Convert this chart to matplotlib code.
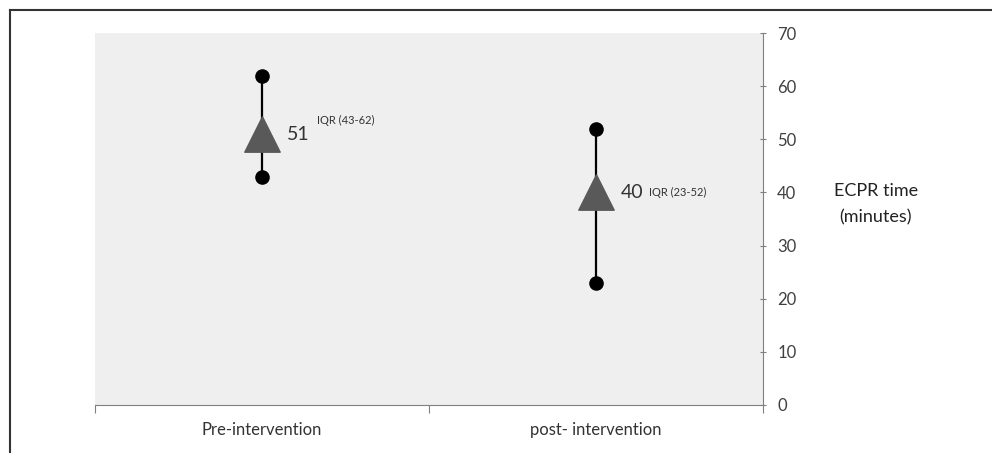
import matplotlib.pyplot as plt
import numpy as np
from matplotlib.lines import Line2D

plt.rcParams['font.family'] = ['Lato', 'DejaVu Sans']

groups = ['Pre-intervention', 'post- intervention']
median = [51, 40]
q1 = [43, 23]
q3 = [62, 52]
iqr_text = ['IQR (43-62)', 'IQR (23-52)']
yticks = [0, 10, 20, 30, 40, 50, 60, 70]

fig = plt.figure(figsize=(9.92, 4.53), dpi=100)
ax = fig.add_axes([0.0958, 0.106, 0.673, 0.821])
ax.set_facecolor('#efefef')

x = np.arange(len(groups))
for i in x:
    ax.plot([i, i], [q1[i], q3[i]], color='black', lw=1.6, zorder=2)
ax.scatter(x, q1, s=90, color='black', zorder=3)
ax.scatter(x, q3, s=90, color='black', zorder=3)
ax.scatter(x, median, marker='^', s=650, color='#595959', zorder=4)

# value labels (first one has the IQR raised like a superscript)
ax.annotate(str(median[0]), (x[0], median[0]), xytext=(18, 0), textcoords='offset points',
            fontsize=14, color='#333333', va='center')
ax.annotate(iqr_text[0], (x[0], median[0]), xytext=(40, 10), textcoords='offset points',
            fontsize=8, color='#333333', va='center')
ax.annotate(str(median[1]), (x[1], median[1]), xytext=(18, 0), textcoords='offset points',
            fontsize=14, color='#333333', va='center')
ax.annotate(iqr_text[1], (x[1], median[1]), xytext=(38, 0), textcoords='offset points',
            fontsize=8, color='#333333', va='center')

ax.set_xlim(-0.5, 1.5)
ax.set_ylim(0, 70)
ax.set_xticks([-0.5, 0.5, 1.5])
ax.set_xticklabels([])
ax.set_xticks(x, minor=True)
ax.set_xticklabels(groups, minor=True, fontsize=12, color='#333333')
ax.tick_params(axis='x', which='minor', length=0, pad=12)
ax.tick_params(axis='x', which='major', length=6, color='#808080', direction='out')

ax.yaxis.tick_right()
ax.set_yticks(yticks)
ax.tick_params(axis='y', length=5, direction='inout', color='#808080', labelsize=12,
               labelcolor='#404040', pad=8)

for s in ['top', 'left']:
    ax.spines[s].set_visible(False)
ax.spines['right'].set_color('#808080')
ax.spines['bottom'].set_color('#808080')

fig.text(0.883, 0.55, 'ECPR time\n(minutes)', ha='center', va='center', fontsize=13,
         color='#222222', linespacing=1.8)

# frame around figure
fig.add_artist(Line2D([0.0101, 0.0101], [0, 0.978], color='#333333', lw=1.5))
fig.add_artist(Line2D([0.0101, 1.0], [0.978, 0.978], color='#333333', lw=1.5))

fig.savefig('out.png', dpi=100)
